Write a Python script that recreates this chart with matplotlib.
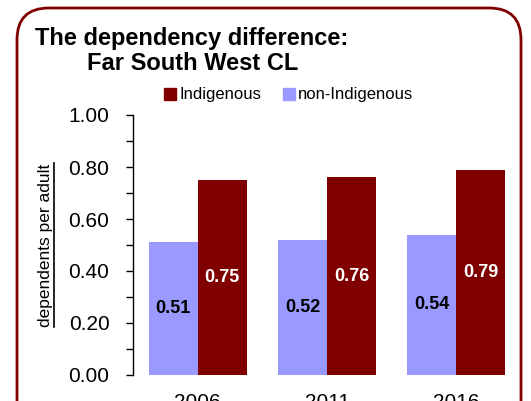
import matplotlib
matplotlib.use("Agg")
import matplotlib.pyplot as plt
from matplotlib.patches import FancyBboxPatch
from matplotlib.lines import Line2D
import numpy as np

years = ["2006", "2011", "2016"]
non_indigenous = [0.51, 0.52, 0.54]
indigenous = [0.75, 0.76, 0.79]
yticks = [0.0, 0.2, 0.4, 0.6, 0.8, 1.0]

plt.rcParams['font.family'] = ['Liberation Sans', 'DejaVu Sans']

W, H = 531, 401
fig = plt.figure(figsize=(W / 100, H / 100), dpi=100)

# rounded border
border = FancyBboxPatch((17 / W, -0.2), (521 - 17) / W, (1.2 - 8 / H),
                        boxstyle="round,pad=0,rounding_size=0.06",
                        transform=fig.transFigure, facecolor='none',
                        edgecolor='#800000', linewidth=2, clip_on=False,
                        mutation_aspect=W / H)
fig.patches.append(border)

ax = fig.add_axes([133 / W, 1 - 375 / H, (521 - 133) / W, (375 - 115) / H])
x = np.arange(len(years))
bw = 0.38
purple = '#9999FF'
maroon = '#800000'
b1 = ax.bar(x - bw / 2, non_indigenous, bw, color=purple, label='non-Indigenous')
b2 = ax.bar(x + bw / 2, indigenous, bw, color=maroon, label='Indigenous')

for rect, v in zip(b1, non_indigenous):
    ax.text(rect.get_x() + rect.get_width() / 2, v / 2, f"{v:.2f}",
            ha='center', va='center', fontsize=13, fontweight='bold', color='black')
for rect, v in zip(b2, indigenous):
    ax.text(rect.get_x() + rect.get_width() / 2, v / 2, f"{v:.2f}",
            ha='center', va='center', fontsize=13, fontweight='bold', color='white')

ax.set_xlim(-0.5, 2.5)
ax.set_ylim(0, 1.0)
ax.set_yticks(yticks)
ax.set_yticklabels([f"{t:.2f}" for t in yticks])
ax.set_yticks(np.arange(0.1, 1.0, 0.2), minor=True)
ax.tick_params(axis='y', which='both', direction='out', length=5, width=1,
               labelsize=15, pad=12, color='black')
ax.set_xticks(x)
ax.set_xticklabels(years)
ax.tick_params(axis='x', length=0, labelsize=15, pad=13)
for s in ['top', 'right', 'bottom']:
    ax.spines[s].set_visible(False)
ax.spines['left'].set_linewidth(1)

# y label with underline
ylab = fig.text(46 / W, 1 - 245 / H, "dependents per adult", rotation=90,
                ha='center', va='center', fontsize=12.5)
fig.canvas.draw()
bb = ylab.get_window_extent().transformed(fig.transFigure.inverted())
fig.add_artist(Line2D([54 / W, 54 / W], [bb.y0, bb.y1], transform=fig.transFigure,
                      color='black', linewidth=1.2))

# title
fig.text(35 / W, 1 - 38 / H, "The dependency difference:", fontsize=17,
         fontweight='bold', ha='left', va='center')
fig.text(87 / W, 1 - 63 / H, "Far South West CL", fontsize=17,
         fontweight='bold', ha='left', va='center')

handles = [Line2D([], [], marker='s', linestyle='none', color=maroon, markersize=9),
           Line2D([], [], marker='s', linestyle='none', color=purple, markersize=9)]
fig.legend(handles, ['Indigenous', 'non-Indigenous'], loc='center',
           bbox_to_anchor=(289 / W, 1 - 95 / H), ncol=2, frameon=False,
           fontsize=12, handlelength=0.7, handletextpad=0.2, columnspacing=1.3,
           borderpad=0)

fig.savefig("out.png", dpi=100)
